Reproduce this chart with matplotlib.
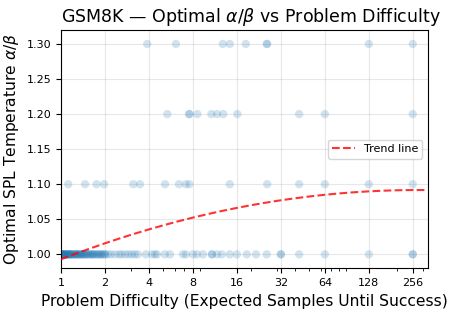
import numpy as np
import matplotlib
matplotlib.use("Agg")
import matplotlib.pyplot as plt
from matplotlib.ticker import NullFormatter

# Data
x_100 = [1.0, 1.0, 1.01, 1.01, 1.02, 1.03, 1.04, 1.05, 1.05, 1.06, 1.07, 1.08, 1.09,
         1.1, 1.11, 1.12, 1.13, 1.14, 1.15, 1.16, 1.17, 1.18, 1.2, 1.21, 1.23, 1.24,
         1.26, 1.27, 1.28, 1.3, 1.31, 1.33, 1.35, 1.36, 1.38, 1.4, 1.42, 1.43, 1.46,
         1.48, 1.5, 1.52, 1.55, 1.58, 1.6, 1.63, 1.65, 1.68, 1.7, 1.75, 1.78, 1.8,
         1.85, 1.88, 1.9, 1.95, 2.0, 2.0, 2.1, 2.2, 2.35, 2.5, 2.6, 2.75,
         2.9, 3.05, 3.2, 3.36, 3.81, 4.19, 4.4, 4.54, 5.14, 5.57, 6.83, 7.16, 8.0,
         8.52, 9.37, 10.8, 10.8, 11.7, 12.6, 14.3, 16.0, 18.7, 21.6, 25.6, 32.0,
         32.0, 42.7, 64.0, 128.0, 256.0, 256.0]
x_110 = [1.12, 1.46, 1.75, 1.97, 3.12, 3.47, 5.15, 6.42, 7.16, 7.55, 14.3, 25.8,
         42.7, 64.0, 128.0, 256.0]
x_120 = [5.34, 7.55, 7.55, 8.57, 10.7, 11.7, 12.9, 16.1, 42.7, 64.0, 256.0]
x_130 = [3.89, 6.12, 12.8, 14.3, 18.4, 25.6, 25.8, 128.0, 256.0]
y_levels = [1.00, 1.10, 1.20, 1.30]

# Trend line: quadratic in log2(difficulty)
trend_coef = [-0.001494, 0.02429, 0.993]   # c, b, a
trend_range = [1.0, 310.0]

xticks = [1, 2, 4, 8, 16, 32, 64, 128, 256]
yticks = [1.00, 1.05, 1.10, 1.15, 1.20, 1.25, 1.30]

fig = plt.figure(figsize=(4.49, 3.15), dpi=100)
ax = fig.add_axes([0.136, 0.148, 0.817, 0.757])

for xs, yv in zip([x_100, x_110, x_120, x_130], y_levels):
    ax.scatter(xs, [yv] * len(xs), s=36, color="#1f77b4", alpha=0.2,
               edgecolors="none", zorder=2)

xt = np.logspace(np.log10(trend_range[0]), np.log10(trend_range[1]), 200)
yt = np.polyval(trend_coef, np.log2(xt))
ax.plot(xt, yt, color="red", linestyle="--", alpha=0.8, linewidth=1.5,
        label="Trend line", zorder=3)

ax.set_xscale("log")
ax.set_xlim(1, 325)
ax.set_ylim(0.98, 1.32)
ax.set_xticks(xticks)
ax.set_xticklabels([str(t) for t in xticks])
ax.xaxis.set_minor_formatter(NullFormatter())
ax.set_yticks(yticks)
ax.set_yticklabels([f"{t:.2f}" for t in yticks])
ax.tick_params(labelsize=8)
ax.grid(True, which="major", alpha=0.3)

ax.set_xlabel("Problem Difficulty (Expected Samples Until Success)", fontsize=11.2)
ax.set_ylabel(r"Optimal SPL Temperature $\alpha/\beta$", fontsize=11.2)
ax.set_title(r"GSM8K — Optimal $\alpha/\beta$ vs Problem Difficulty", fontsize=12.5,
             x=0.518)
ax.legend(loc="center right", fontsize=8)

fig.savefig("out.png", dpi=100)
